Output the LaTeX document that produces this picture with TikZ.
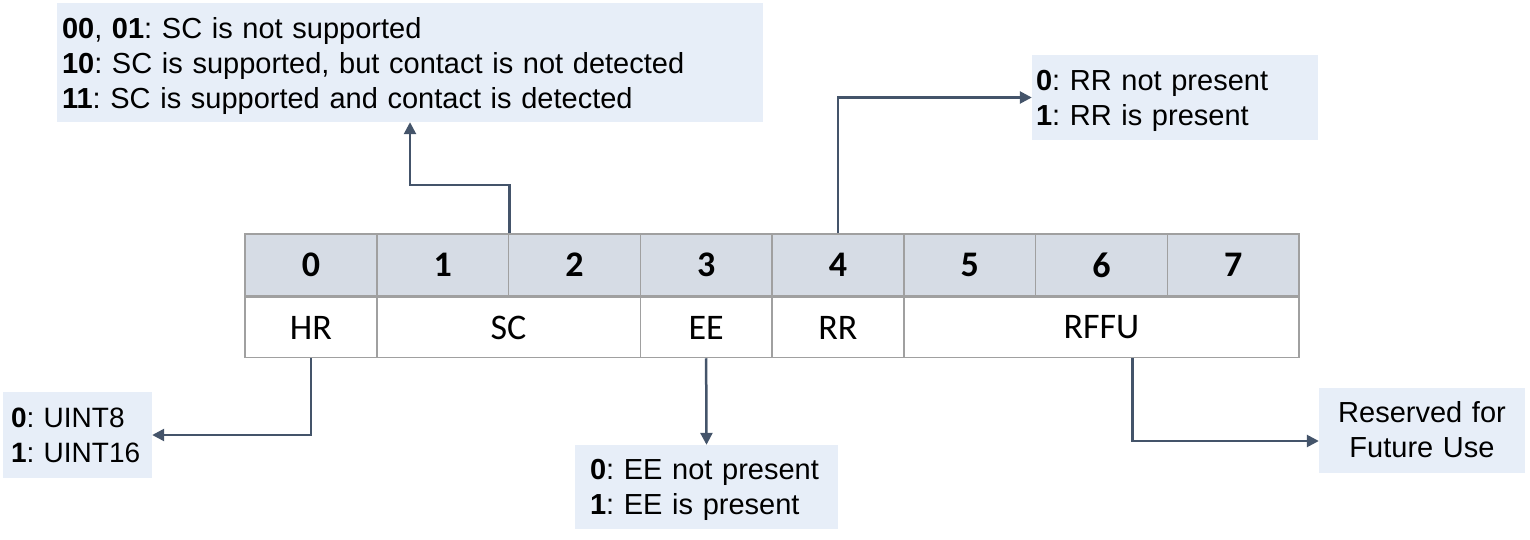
\documentclass[tikz,border=0pt]{standalone}
\usepackage{xcolor}
\usepackage{fontspec}
\setmainfont{Liberation Sans}
\newfontfamily\cellfont{Carlito}
\usepackage{tikz}
\usetikzlibrary{arrows.meta,positioning}
\definecolor{headfill}{HTML}{D6DCE5}
\definecolor{notefill}{HTML}{E7EEF8}
\definecolor{linkcol}{HTML}{44546A}
\definecolor{gridcol}{HTML}{A0A0A0}
\frenchspacing

\begin{document}
\begin{tikzpicture}[x=1pt, y=-1pt,
  cell/.style={draw=gridcol, line width=1.5pt, inner sep=0pt, font=\cellfont\fontsize{36}{40}\selectfont},
  head/.style={cell, fill=headfill, minimum width=131.75pt, minimum height=62pt, font=\cellfont\bfseries\fontsize{36}{40}\selectfont},
  field/.style={cell, anchor=north west, minimum height=60pt},
  note/.style={fill=notefill, align=left, inner sep=0pt, text depth=35pt, font=\fontsize{29}{35}\selectfont},
  link/.style={draw=linkcol, line width=2.5pt, -{Triangle[length=12pt,width=12pt]}}]
\useasboundingbox (0,0) rectangle (1530,540);

\foreach \i in {0,...,7}
  \node[head] (bit\i) at ({245+131.75*\i+65.875},265) {\i};

\node[field, minimum width=131.75pt] (hr) at (bit0.south west) {HR};
\node[field, minimum width=263.5pt] (sc) at (bit1.south west) {SC};
\node[field, minimum width=131.75pt] (ee) at (bit3.south west) {EE};
\node[field, minimum width=131.75pt] (rr) at (bit4.south west) {RR};
\node[field, minimum width=395.25pt] (rffu) at (bit5.south west) {RFFU};

\node[note, text width=696pt, inner xsep=5pt, minimum height=119pt, text depth=70pt] (scnote) at (410,62.5)
  {\textbf{00}, \textbf{01}: SC is not supported\\\textbf{10}: SC is supported, but contact is not detected\\\textbf{11}: SC is supported and contact is detected};
\node[note, text width=278pt, inner xsep=4pt, minimum height=85pt] (rrnote) at (1175,97.5)
  {\textbf{0}: RR not present\\\textbf{1}: RR is present};
\node[note, text width=133pt, inner xsep=8pt, minimum height=86pt, font=\fontsize{28}{35}\selectfont] (hrnote) at (77.5,435)
  {\textbf{0}: UINT8\\\textbf{1}: UINT16};
\node[note, text width=233pt, inner xsep=15pt, minimum height=84pt] (eenote) at (706.5,487)
  {\textbf{0}: EE not present\\\textbf{1}: EE is present};
\node[note, align=center, text width=206pt, minimum height=85pt, text depth=37pt] (rffunote) at (1422,430)
  {Reserved for\\Future Use};

\draw[link] (bit1.north east) -- ++(0,-48) -| (scnote.south);
\draw[link] (bit4.north) |- (rrnote.west);
\draw[link] (hr.south) |- (hrnote.east);
\draw[link] (ee.south) -- (eenote.north);
\draw[link] ([xshift=31pt]rffu.south) |- ([yshift=-11pt]rffunote.west);
\end{tikzpicture}
\end{document}
